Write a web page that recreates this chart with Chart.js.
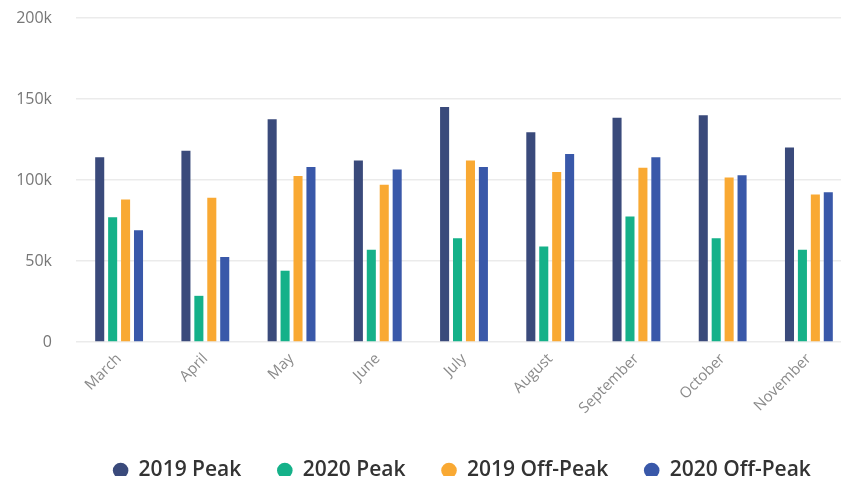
<!DOCTYPE html>
<html>
	<head>
		<title>Peak / Off-Peak</title>
		<script src="https://cdn.jsdelivr.net/npm/chart.js@4.4.0/dist/chart.umd.min.js"></script>
		<style>
			html, body { margin: 0; padding: 0; background: #fff; overflow: hidden; }
			#wrap { width: 856px; height: 478px; }
		</style>
	</head>
	<body>
		<div id="wrap">
			<canvas id="myChart" width="856" height="478"></canvas>
		</div>
		<script>
			// dane
			const months = ['March', 'April', 'May', 'June', 'July', 'August', 'September', 'October', 'November'];
			const peak2019 = [114000, 118000, 137500, 112000, 145000, 129500, 138500, 140000, 120000];
			const peak2020 = [77000, 28500, 44000, 57000, 64000, 59000, 77500, 64000, 57000];
			const offPeak2019 = [88000, 89000, 102500, 97000, 112000, 105000, 107500, 101500, 91000];
			const offPeak2020 = [69000, 52500, 108000, 106500, 108000, 116000, 114000, 103000, 92500];
			const yTicks = [0, 50000, 100000, 150000, 200000];

			Chart.defaults.font.family = '"Open Sans", "Noto Sans", sans-serif';

			// legenda: duzy odstep miedzy elementami, ale niska ramka, lekko przesunieta w prawo
			const legendTweak = {
				id: 'legendTweak',
				beforeLayout: function (chart) {
					const lg = chart.legend;
					if (lg && !lg._patched) {
						const fit = lg.fit;
						lg.fit = function () {
							fit.apply(this, arguments);
							this.height = 52;
						};
						lg._patched = true;
					}
				},
				afterLayout: function (chart) {
					const lg = chart.legend;
					if (lg) {
						lg.left += 36;
						lg.right += 36;
					}
				}
			};

			var ctx = document.getElementById('myChart').getContext('2d');
			var chart = new Chart(ctx, {
				type: 'bar',
				data: {
					labels: months,
					datasets: [
						{ label: '2019 Peak', data: peak2019, backgroundColor: '#3a4a7b' },
						{ label: '2020 Peak', data: peak2020, backgroundColor: '#15b189' },
						{ label: '2019 Off-Peak', data: offPeak2019, backgroundColor: '#f9a933' },
						{ label: '2020 Off-Peak', data: offPeak2020, backgroundColor: '#3958a9' }
					]
				},
				options: {
					responsive: false,
					animation: false,
					layout: { padding: { top: 18, left: 0, right: 4, bottom: 2 } },
					datasets: {
						bar: { categoryPercentage: 0.6, barPercentage: 0.7 }
					},
					scales: {
						x: {
							grid: { display: false },
							border: { display: false },
							ticks: {
								color: '#8a8a8a',
								font: { size: 15 },
								maxRotation: 45,
								minRotation: 45,
								padding: 0
							},
							afterFit: function (scale) { scale.height = 82; }
						},
						y: {
							min: 0,
							max: 200000,
							afterBuildTicks: function (scale) {
								scale.ticks = yTicks.map(v => ({ value: v }));
							},
							// niewidoczne znaczniki odsuwaja etykiety od osi
							grid: { color: '#ebebeb', lineWidth: 1.5, drawTicks: true, tickLength: 24, tickColor: 'rgba(0,0,0,0)' },
							border: { display: false },
							ticks: {
								color: '#777',
								font: { size: 16 },
								padding: 0,
								callback: function (v) { return v === 0 ? '0' : (v / 1000) + 'k'; }
							},
							afterFit: function (scale) { scale.width = 76; }
						}
					},
					plugins: {
						legend: {
							position: 'bottom',
							labels: {
								usePointStyle: true,
								pointStyle: 'circle',
								boxWidth: 15,
								boxHeight: 11,
								padding: 36,
								color: '#333',
								font: { size: 21, weight: '600' }
							}
						},
						tooltip: { enabled: false }
					}
				},
				plugins: [legendTweak]
			});
		</script>
	</body>
</html>
